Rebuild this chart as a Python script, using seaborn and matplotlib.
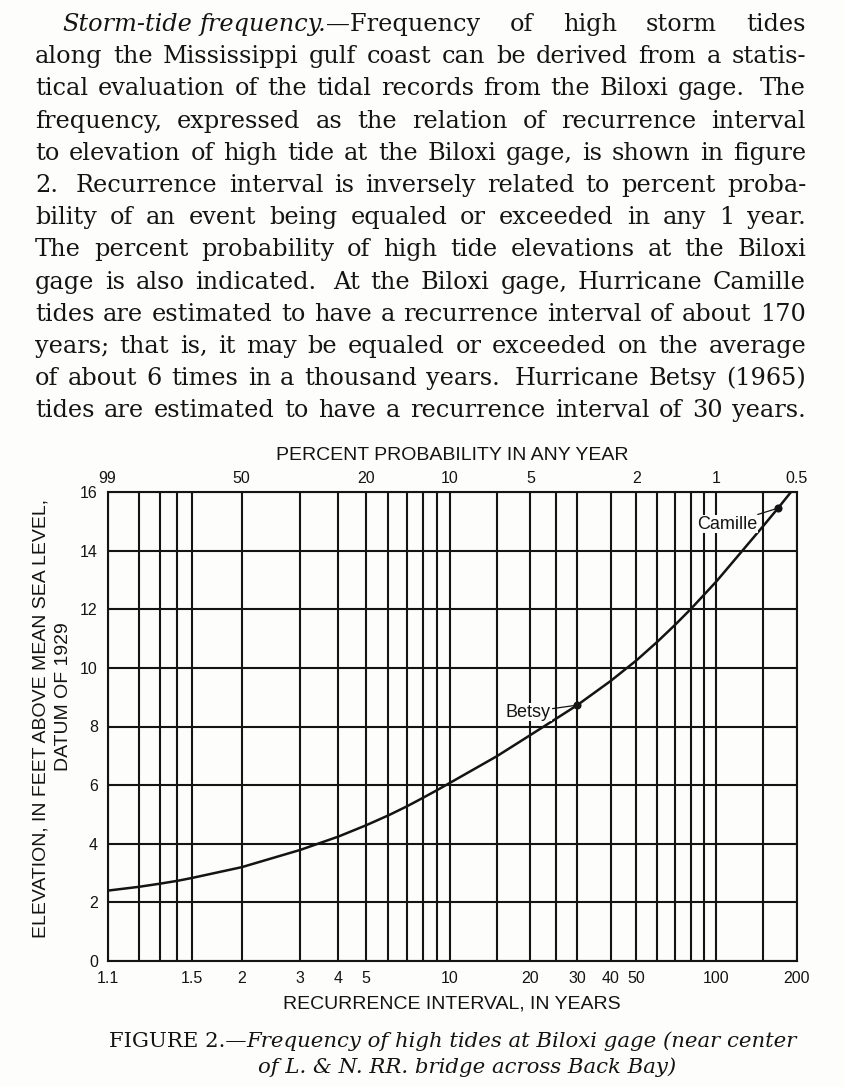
import re
import numpy as np
import matplotlib
matplotlib.use("Agg")
import matplotlib.pyplot as plt
import seaborn as sns

# ---------------------------------------------------------------------------
# Data: frequency curve of high tides at the Biloxi gage
# ---------------------------------------------------------------------------
recurrence_years = [1.1, 1.2, 1.3, 1.4, 1.5, 2, 3, 4, 5, 6, 7, 8, 9, 10,
                    15, 20, 25, 30, 40, 50, 60, 70, 80, 90, 100, 150, 170, 190]
elevation_ft = [2.40, 2.53, 2.64, 2.735, 2.83, 3.20, 3.79, 4.24, 4.63, 4.97,
                5.28, 5.57, 5.83, 6.07, 6.99, 7.71, 8.27, 8.73, 9.55, 10.25,
                10.89, 11.47, 12.00, 12.50, 12.95, 14.85, 15.45, 16.00]

storm_names = ["Betsy", "Camille"]
storm_years = [30, 170]
storm_elev = [8.73, 15.45]

grid_years = [1.1, 1.2, 1.3, 1.4, 1.5, 2, 3, 4, 5, 6, 7, 8, 9, 10, 15, 20,
              25, 30, 40, 50, 60, 70, 80, 90, 100, 150, 200]
bottom_tick_years = [1.1, 1.5, 2, 3, 4, 5, 10, 20, 30, 40, 50, 100, 200]
bottom_tick_labels = ["1.1", "1.5", "2", "3", "4", "5", "10", "20", "30",
                      "40", "50", "100", "200"]
top_tick_years = [1.1, 2, 5, 10, 20, 50, 100, 200]
top_tick_labels = ["99", "50", "20", "10", "5", "2", "1", "0.5"]
elev_ticks = [0, 2, 4, 6, 8, 10, 12, 14, 16]
elev_tick_labels = ["0", "2", "4", "6", "8", "10", "12", "14", "16"]

paragraph_lines = [
    "*Storm-tide frequency.*\u2014Frequency of high storm tides",
    "along the Mississippi gulf coast can be derived from a statis-",
    "tical evaluation of the tidal records from the Biloxi gage.  The",
    "frequency, expressed as the relation of recurrence interval",
    "to elevation of high tide at the Biloxi gage, is shown in figure",
    "2.  Recurrence interval is inversely related to percent proba-",
    "bility of an event being equaled or exceeded in any 1 year.",
    "The percent probability of high tide elevations at the Biloxi",
    "gage is also indicated.  At the Biloxi gage, Hurricane Camille",
    "tides are estimated to have a recurrence interval of about 170",
    "years; that is, it may be equaled or exceeded on the average",
    "of about 6 times in a thousand years.  Hurricane Betsy (1965)",
    "tides are estimated to have a recurrence interval of 30 years.",
]
caption_lines = [
    "FIGURE 2.\u2014*Frequency of high tides at Biloxi gage (near center*",
    "*of L. & N. RR. bridge across Back Bay)*",
]

x_title = "RECURRENCE INTERVAL, IN YEARS"
top_title = "PERCENT PROBABILITY IN ANY YEAR"
y_title_1 = "ELEVATION, IN FEET ABOVE MEAN SEA LEVEL,"
y_title_2 = "DATUM OF 1929"

# ---------------------------------------------------------------------------
INK = "#141414"
PAPER = "#fdfdfb"
W, H = 844, 1087
SANS = ["Liberation Sans", "DejaVu Sans"]
BODY_SERIF = ["DejaVu Serif", "Liberation Serif"]
CAPTION_SERIF = ["DejaVu Serif", "Liberation Serif"]

sns.set_theme(style="white", rc={"axes.facecolor": PAPER,
                                 "figure.facecolor": PAPER,
                                 "text.color": INK,
                                 "axes.labelcolor": INK,
                                 "xtick.color": INK,
                                 "ytick.color": INK})
plt.rcParams["font.family"] = SANS


def gumbel(t):
    """Extreme-value reduced variate for a recurrence interval in years."""
    t = np.clip(np.asarray(t, dtype=float), 1.000001, None)
    with np.errstate(all="ignore"):
        return -np.log(-np.log(1.0 - 1.0 / t))


def gumbel_inv(v):
    v = np.asarray(v, dtype=float)
    with np.errstate(all="ignore"):
        return 1.0 / (1.0 - np.exp(-np.exp(-v)))


# The printed extreme-value paper is slightly compressed through the middle
# of its range; a small quadratic bow between the 1.1- and 200-year rulings
# reproduces that spacing.
G_LO, G_HI = float(gumbel(1.1)), float(gumbel(200.0))
BOW = 0.0067


def paper_fwd(t):
    g = gumbel(t)
    return g + BOW * (g - G_LO) * (g - G_HI)


def paper_inv(h):
    h = np.asarray(h, dtype=float)
    b = 1.0 - BOW * (G_LO + G_HI)
    c0 = BOW * G_LO * G_HI - h
    disc = np.clip(b * b - 4.0 * BOW * c0, 0.0, None)
    g = (-b + np.sqrt(disc)) / (2.0 * BOW)
    return gumbel_inv(g)


fig = plt.figure(figsize=(W / 100, H / 100), dpi=100, facecolor=PAPER)
renderer = fig.canvas.get_renderer()


def fx(px):
    return px / W


def fy(py):
    return 1.0 - py / H


# ---------------------------------------------------------------------------
# Chart
# ---------------------------------------------------------------------------
left, right, top, bottom = 107.5, 797.0, 492.0, 961.0
ax = fig.add_axes([fx(left), fy(bottom), (right - left) / W, (bottom - top) / H])
ax.set_facecolor(PAPER)
ax.set_xscale("function", functions=(paper_fwd, paper_inv))

sns.lineplot(x=recurrence_years, y=elevation_ft, ax=ax, color=INK,
             linewidth=1.8, zorder=4)
sns.scatterplot(x=storm_years, y=storm_elev, ax=ax, color=INK, s=34,
                edgecolor=INK, linewidth=0, zorder=5)

ax.set_xlim(1.1, 200)
ax.set_ylim(0, 16)
ax.set_xticks(grid_years, minor=True)
ax.set_xticks(bottom_tick_years, labels=bottom_tick_labels)
ax.set_yticks(elev_ticks, labels=elev_tick_labels)
ax.set_axisbelow(True)
ax.grid(True, which="both", axis="x", color=INK, linewidth=1.5)
ax.grid(True, which="major", axis="y", color=INK, linewidth=1.5)
ax.tick_params(which="both", length=0)
ax.tick_params(axis="x", labelsize=11.5, pad=7)
ax.tick_params(axis="y", labelsize=11.5, pad=7)
for sp in ax.spines.values():
    sp.set_visible(True)
    sp.set_color(INK)
    sp.set_linewidth(1.5)
ax.set_xlabel(x_title, fontsize=14, labelpad=7)
ax.set_ylabel("")

# Percent probability scale along the top
ax_top = ax.twiny()
ax_top.set_xscale("function", functions=(paper_fwd, paper_inv))
ax_top.set_xlim(1.1, 200)
ax_top.set_xticks(top_tick_years, labels=top_tick_labels)
ax_top.tick_params(axis="x", length=0, labelsize=11.5, pad=4)
ax_top.grid(False)
for sp in ax_top.spines.values():
    sp.set_visible(False)
ax_top.set_xlabel(top_title, fontsize=14, labelpad=8)

# Storm labels with leaders
label_offsets = {"Betsy": (-19, -5), "Camille": (-15, -11.5)}
for name, yr, el in zip(storm_names, storm_years, storm_elev):
    ax.annotate(name, xy=(yr, el), xytext=label_offsets[name],
                textcoords="offset points", ha="right", va="center",
                fontsize=13, color=INK, zorder=6,
                bbox=dict(facecolor=PAPER, edgecolor="none", pad=0.6),
                arrowprops=dict(arrowstyle="-", color=INK, lw=0.9,
                                shrinkA=0.5, shrinkB=2))

# Two-line vertical axis title
fig.text(fx(41), fy(719), y_title_1, rotation=90, ha="center", va="center",
         fontsize=14, color=INK)
fig.text(fx(64), fy(697), y_title_2, rotation=90, ha="center", va="center",
         fontsize=14, color=INK)


# ---------------------------------------------------------------------------
# Text blocks
# ---------------------------------------------------------------------------
def parse_styled(line):
    """Split a line into words (lists of (text, italic) runs) and gaps.

    A gap is a stretch weight, or None for a space inside an italic run-in
    head, which keeps its natural width when the line is justified.
    """
    words, gaps = [], []
    italic = False
    for part in re.split(r"( +)", line):
        if not part:
            continue
        if part.startswith(" "):
            if italic:
                gaps.append(None)
            else:
                gaps.append(1.0 if len(part) == 1 else 1.6)
            continue
        pieces, buf = [], ""
        for ch in part:
            if ch == "*":
                if buf:
                    pieces.append((buf, italic))
                    buf = ""
                italic = not italic
            else:
                buf += ch
        if buf:
            pieces.append((buf, italic))
        words.append(pieces)
    return words, gaps


def measure(text, italic, size, family):
    t = fig.text(0, 0, text, fontsize=size, family=family,
                 style="italic" if italic else "normal")
    w = t.get_window_extent(renderer).width
    t.remove()
    return w


def space_width(size, family):
    return measure("a a", False, size, family) - measure("aa", False, size, family)


def put(text, italic, x_px, base_px, size, family):
    fig.text(fx(x_px), fy(base_px), text, fontsize=size, family=family,
             style="italic" if italic else "normal", color=INK,
             ha="left", va="baseline")


def natural_width(line, size, family):
    words, gaps = parse_styled(line)
    total = sum(measure(t, it, size, family) for w in words for t, it in w)
    return total + space_width(size, family) * sum(g or 1.0 for g in gaps)


def draw_justified(line, x0, x1, base_px, size, family):
    words, gaps = parse_styled(line)
    widths = [[measure(t, it, size, family) for t, it in w] for w in words]
    sp = space_width(size, family)
    fixed = sp * sum(1 for g in gaps if g is None)
    total = sum(sum(ws) for ws in widths) + fixed
    weights = sum(g for g in gaps if g is not None)
    unit = ((x1 - x0) - total) / weights if weights else 0.0
    x = x0
    for i, (w, ws) in enumerate(zip(words, widths)):
        for (t, it), pw in zip(w, ws):
            put(t, it, x, base_px, size, family)
            x += pw
        if i < len(gaps):
            x += sp if gaps[i] is None else unit * gaps[i]


def draw_centered(line, cx, base_px, size, family):
    runs = [p for w in parse_styled(line.replace(" ", "\u00a0"))[0] for p in w]
    widths = [measure(t, it, size, family) for t, it in runs]
    x = cx - sum(widths) / 2
    for (t, it), pw in zip(runs, widths):
        put(t, it, x, base_px, size, family)
        x += pw


# Body paragraph, fully justified
par_left, par_indent, par_right = 35.0, 62.0, 806.0
ref_size = 10.0
fit = min((par_right - (par_indent if i == 0 else par_left)) /
          natural_width(ln, ref_size, BODY_SERIF) * ref_size
          for i, ln in enumerate(paragraph_lines))
body_size = min(18.0, fit * 0.99)
for i, ln in enumerate(paragraph_lines):
    x0 = par_indent if i == 0 else par_left
    draw_justified(ln, x0, par_right, 31.0 + 32.2 * i, body_size, BODY_SERIF)

# Figure caption
cap_width = natural_width(caption_lines[0].replace(" ", "\u00a0"), ref_size,
                          CAPTION_SERIF)
cap_size = 690.0 / cap_width * ref_size
draw_centered(caption_lines[0], 453.0, 1047.0, cap_size, CAPTION_SERIF)
draw_centered(caption_lines[1], 467.0, 1073.0, cap_size, CAPTION_SERIF)

fig.savefig("out.png", dpi=100, facecolor=PAPER)
